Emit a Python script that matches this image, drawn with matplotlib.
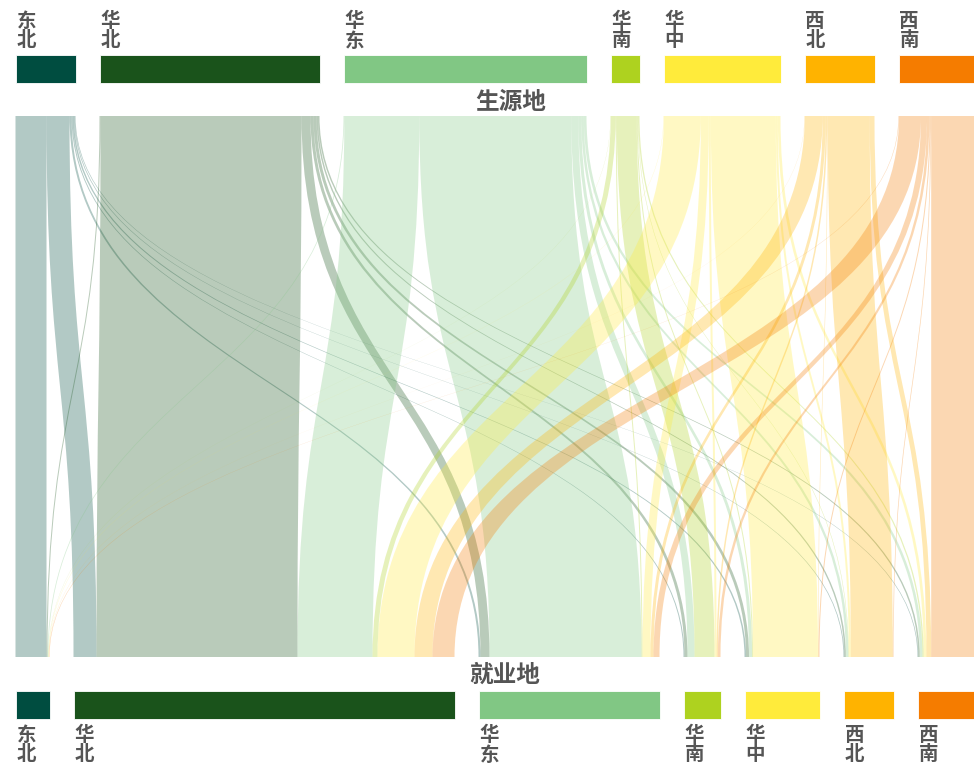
import numpy as np
import matplotlib
matplotlib.use("Agg")
import matplotlib.pyplot as plt
from matplotlib.path import Path
from matplotlib.patches import PathPatch, Rectangle

plt.rcParams['font.family'] = ['Noto Sans CJK SC', 'DejaVu Sans']

# ------------------------------------------------------------------
# Data: graduates by region of origin (生源地) -> region of employment (就业地)
# ------------------------------------------------------------------
regions = ["东北", "华北", "华东", "华南", "华中", "西北", "西南"]
colors = ["#004D40", "#1A531B", "#81C784", "#AED21F", "#FFEB3B", "#FFB300", "#F57C00"]

# each list: flows from one origin to [东北, 华北, 华东, 华南, 华中, 西北, 西南]
from_dongbei = [310, 230, 20, 10, 15, 8, 7]
from_huabei = [10, 2010, 90, 30, 30, 15, 15]
from_huadong = [8, 750, 1520, 70, 30, 25, 27]
from_huanan = [2, 50, 10, 200, 10, 5, 13]
from_huazhong = [3, 370, 80, 20, 650, 20, 27]
from_xibei = [2, 180, 30, 15, 5, 420, 48]
from_xinan = [5, 220, 60, 25, 10, 7, 483]

flows = np.array([from_dongbei, from_huabei, from_huadong, from_huanan,
                  from_huazhong, from_xibei, from_xinan], dtype=float)

# ------------------------------------------------------------------
# Layout (pixel space of the output image)
# ------------------------------------------------------------------
W, H = 974, 767
scale = 0.1          # px per graduate
gap = 24
x_start = 15.5
top_bar = (55, 83)
bot_bar = (691, 719)
rib_top, rib_bot = 116, 657
label_col = "#555555"


def node_positions(totals):
    xs = []
    x = x_start
    for t in totals:
        xs.append(x)
        x += t * scale + gap
    return np.array(xs)


out_tot = flows.sum(axis=1)
in_tot = flows.sum(axis=0)
top_x = node_positions(out_tot)
bot_x = node_positions(in_tot)


def ribbon(ax, x0, x1, w, color):
    ym = (rib_top + rib_bot) / 2
    verts = [(x0, rib_top), (x0, ym), (x1, ym), (x1, rib_bot),
             (x1 + w, rib_bot), (x1 + w, ym), (x0 + w, ym), (x0 + w, rib_top),
             (x0, rib_top)]
    codes = [Path.MOVETO, Path.CURVE4, Path.CURVE4, Path.CURVE4,
             Path.LINETO, Path.CURVE4, Path.CURVE4, Path.CURVE4, Path.CLOSEPOLY]
    ax.add_patch(PathPatch(Path(verts, codes), facecolor=color, edgecolor="none",
                           alpha=0.3, lw=0))


fig = plt.figure(figsize=(W / 100, H / 100), dpi=100)
ax = fig.add_axes([0, 0, 1, 1])
ax.set_xlim(0, W)
ax.set_ylim(H, 0)
ax.axis("off")

# ------------------------------------------------------------------ ribbons
top_off = top_x.copy()
bot_off = bot_x.copy()
offsets_top = np.zeros_like(flows)
offsets_bot = np.zeros_like(flows)
for i in range(len(regions)):
    for j in range(len(regions)):
        offsets_top[i, j] = top_off[i]
        top_off[i] += flows[i, j] * scale
for j in range(len(regions)):
    for i in range(len(regions)):
        offsets_bot[i, j] = bot_off[j]
        bot_off[j] += flows[i, j] * scale

for i in range(len(regions)):
    for j in range(len(regions)):
        ribbon(ax, offsets_top[i, j], offsets_bot[i, j], flows[i, j] * scale, colors[i])

# ------------------------------------------------------------------ node bars + labels
for k, name in enumerate(regions):
    ax.add_patch(Rectangle((top_x[k], top_bar[0]), out_tot[k] * scale, top_bar[1] - top_bar[0],
                           facecolor=colors[k], edgecolor="white", lw=0.6))
    ax.add_patch(Rectangle((bot_x[k], bot_bar[0]), in_tot[k] * scale, bot_bar[1] - bot_bar[0],
                           facecolor=colors[k], edgecolor="white", lw=0.6))
    for c, ch in enumerate(name):
        ax.text(top_x[k] + 1, 12 + c * 19.5, ch, ha="left", va="top",
                fontsize=14, fontweight="bold", color=label_col)
        ax.text(bot_x[k] + 1, 726 + c * 19.5, ch, ha="left", va="top",
                fontsize=14, fontweight="bold", color=label_col)

ax.text(511, 102, "生源地", ha="center", va="center", fontsize=17,
        fontweight="bold", color=label_col)
ax.text(505, 675, "就业地", ha="center", va="center", fontsize=17,
        fontweight="bold", color=label_col)

fig.savefig("out.png", dpi=100)
